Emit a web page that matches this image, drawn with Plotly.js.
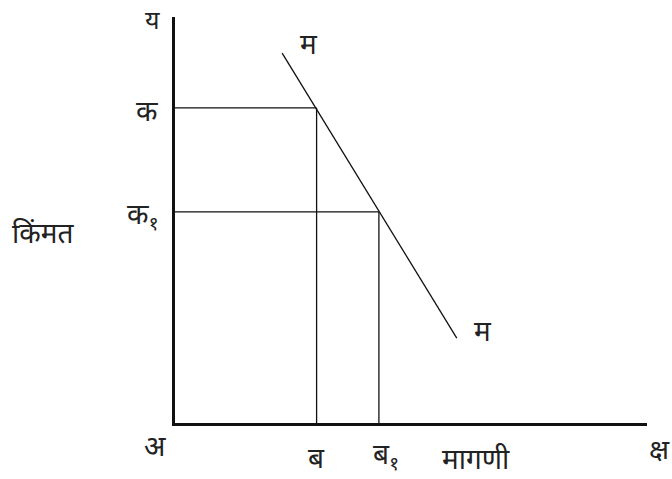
<!DOCTYPE html>
<html>
<head>
<meta charset="utf-8">
<script src="https://cdn.plot.ly/plotly-3.0.1.min.js"></script>
<style>html,body{margin:0;padding:0;background:#fff;}#chart{width:672px;height:479px;}</style>
</head>
<body>
<div id="chart"></div>
<script>
// Demand curve end points
const demandX = [2.27, 5.97];
const demandY = [9.11, 2.09];
// Price / quantity pairs on the demand curve
const qtyX = [3.0, 4.32];
const priceY = [7.76, 5.2];
const priceLabels = ['क', 'क<sub>१</sub>'];
const qtyLabels = ['ब', 'ब<sub>१</sub>'];
const demandLabel = 'म';
const originLabel = 'अ';
const yEndLabel = 'य';
const xEndLabel = 'क्ष';
const yTitle = 'किंमत';
const xTitle = 'मागणी';
const xRange = [0, 10];
const yRange = [0, 10];

const lineStyle = {color: '#111', width: 1.3};
const traces = [{
  x: demandX, y: demandY, mode: 'lines', line: lineStyle, hoverinfo: 'skip'
}];
for (let i = 0; i < qtyX.length; i++) {
  traces.push({x: [xRange[0], qtyX[i]], y: [priceY[i], priceY[i]], mode: 'lines', line: lineStyle, hoverinfo: 'skip'});
  traces.push({x: [qtyX[i], qtyX[i]], y: [yRange[0], priceY[i]], mode: 'lines', line: lineStyle, hoverinfo: 'skip'});
}

const fnt = {family: 'Noto Sans, DejaVu Sans, sans-serif', size: 28, color: '#222'};
function ann(text, x, y, xs, ys, extra) {
  return Object.assign({text: text, x: x, y: y, xref: 'x', yref: 'y', xshift: xs, yshift: ys,
    showarrow: false, xanchor: 'center', yanchor: 'middle', font: fnt}, extra || {});
}
const annotations = [
  ann(yEndLabel, xRange[0], yRange[1], -23, -2, {font: Object.assign({}, fnt, {size: 25})}),
  ann(priceLabels[0], xRange[0], priceY[0], -28, -2),
  ann(priceLabels[1], xRange[0], priceY[1], -32, -3),
  ann(yTitle, xRange[0], 4.7, -132, 0),
  ann(originLabel, xRange[0], yRange[0], -20, -22),
  ann(qtyLabels[0], qtyX[0], yRange[0], 0, -34),
  ann(qtyLabels[1], qtyX[1], yRange[0], 7, -32),
  ann(xTitle, 6.37, yRange[0], 0, -35),
  ann(xEndLabel, xRange[1], yRange[0], 12, -25),
  ann(demandLabel, demandX[0], demandY[0], 27, 10),
  ann(demandLabel, demandX[1], demandY[1], 26, 8)
];

const layout = {
  width: 672, height: 479,
  margin: {l: 175, r: 25, t: 17, b: 56},
  paper_bgcolor: '#fff', plot_bgcolor: '#fff',
  showlegend: false,
  xaxis: {range: xRange, showline: true, linewidth: 3, linecolor: '#111', showgrid: false, zeroline: false, showticklabels: false, ticks: ''},
  yaxis: {range: yRange, showline: true, linewidth: 3, linecolor: '#111', showgrid: false, zeroline: false, showticklabels: false, ticks: ''},
  annotations: annotations
};
Plotly.newPlot('chart', traces, layout, {displayModeBar: false, staticPlot: true});
</script>
</body>
</html>
